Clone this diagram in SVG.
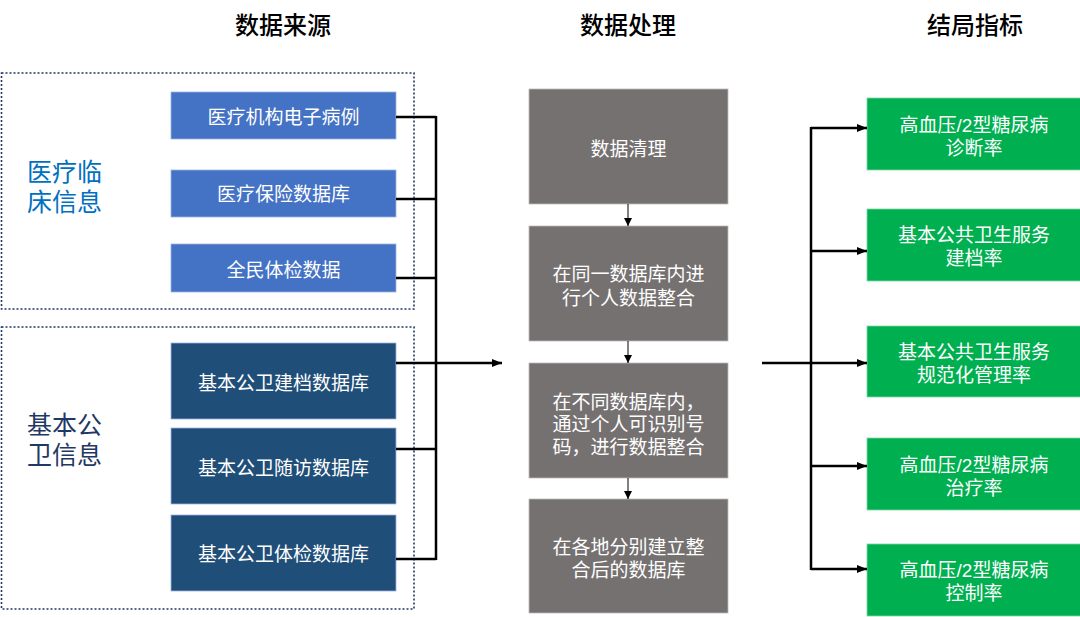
<svg xmlns="http://www.w3.org/2000/svg" width="1080" height="617" viewBox="0 0 1080 617">
<defs>
<style>
text{font-family:"Liberation Sans","Noto Sans CJK SC",sans-serif;}
.h{font-size:24px;fill:#000;text-anchor:middle;font-weight:500;}
.w{font-size:19px;fill:#fff;text-anchor:middle;}
.lb{font-size:25px;}
.grp{fill:none;stroke:#1F3864;stroke-width:1.6;stroke-dasharray:2 2;}
.b1{fill:#4472C4;stroke:#9DB5E0;stroke-width:0.8;}
.b2{fill:#1F4E79;stroke:#9DB5E0;stroke-width:0.8;}
.gr{fill:#767171;stroke:#bbb;stroke-width:0.8;}
.gn{fill:#00B050;stroke:#7fd6a5;stroke-width:0.8;}
.ln{fill:none;stroke:#000;stroke-width:2.5;}
.th{fill:none;stroke:#000;stroke-width:1;}
</style>
<marker id="ah" viewBox="0 0 10 10" refX="10" refY="5" markerWidth="4" markerHeight="4" orient="auto" markerUnits="strokeWidth"><path d="M0,1 L10,5 L0,9 z" fill="#000"/></marker>
<marker id="as" viewBox="0 0 10 10" refX="10" refY="5" markerWidth="8" markerHeight="8" orient="auto" markerUnits="strokeWidth"><path d="M0,0 L10,5 L0,10 z" fill="#000"/></marker>
</defs>
<rect width="1080" height="617" fill="#fff"/>
<g id="titles">
<text class="h" x="283" y="34">数据来源</text>
<text class="h" x="628" y="34">数据处理</text>
<text class="h" x="975" y="34">结局指标</text>
</g>
<g id="group-clinical">
<rect class="grp" x="1.5" y="73" width="412.5" height="236"/>
<text class="lb" fill="#0070C0"><tspan x="27" y="181">医疗临</tspan><tspan x="27" y="211">床信息</tspan></text>
</g>
<g id="group-basic">
<rect class="grp" x="1.5" y="327" width="412.5" height="282"/>
<text class="lb" fill="#1F3864"><tspan x="27" y="434">基本公</tspan><tspan x="27" y="464">卫信息</tspan></text>
</g>
<g id="n1"><rect class="b1" x="171" y="92" width="225" height="47"/><text class="w" x="283.5" y="124">医疗机构电子病例</text></g>
<g id="n2"><rect class="b1" x="171" y="170" width="225" height="47"/><text class="w" x="283.5" y="201">医疗保险数据库</text></g>
<g id="n3"><rect class="b1" x="171" y="244" width="225" height="48"/><text class="w" x="283.5" y="277">全民体检数据</text></g>
<g id="n4"><rect class="b2" x="171" y="343" width="225" height="76"/><text class="w" x="283.5" y="390">基本公卫建档数据库</text></g>
<g id="n5"><rect class="b2" x="171" y="428" width="225" height="76"/><text class="w" x="283.5" y="475">基本公卫随访数据库</text></g>
<g id="n6"><rect class="b2" x="171" y="515" width="225" height="76"/><text class="w" x="283.5" y="561">基本公卫体检数据库</text></g>
<g id="p1"><rect class="gr" x="529" y="89" width="199" height="115"/><text class="w" x="628.5" y="156">数据清理</text></g>
<g id="p2"><rect class="gr" x="529" y="226" width="199" height="115"/><text class="w"><tspan x="628.5" y="281">在同一数据库内进</tspan><tspan x="628.5" y="305">行个人数据整合</tspan></text></g>
<g id="p3"><rect class="gr" x="529" y="363" width="199" height="115"/><text class="w"><tspan x="628.5" y="409">在不同数据库内，</tspan><tspan x="628.5" y="431">通过个人可识别号</tspan><tspan x="628.5" y="454">码，进行数据整合</tspan></text></g>
<g id="p4"><rect class="gr" x="529" y="499" width="199" height="114"/><text class="w"><tspan x="628.5" y="554">在各地分别建立整</tspan><tspan x="628.5" y="577">合后的数据库</tspan></text></g>
<g id="o1"><rect class="gn" x="867" y="98" width="215" height="72"/><text class="w"><tspan x="974" y="132">高血压/2型糖尿病</tspan><tspan x="974" y="155">诊断率</tspan></text></g>
<g id="o2"><rect class="gn" x="867" y="209" width="215" height="72"/><text class="w"><tspan x="974" y="242">基本公共卫生服务</tspan><tspan x="974" y="265">建档率</tspan></text></g>
<g id="o3"><rect class="gn" x="867" y="326" width="215" height="71"/><text class="w"><tspan x="974" y="359">基本公共卫生服务</tspan><tspan x="974" y="382">规范化管理率</tspan></text></g>
<g id="o4"><rect class="gn" x="867" y="438" width="215" height="72"/><text class="w"><tspan x="974" y="472">高血压/2型糖尿病</tspan><tspan x="974" y="495">治疗率</tspan></text></g>
<g id="o5"><rect class="gn" x="867" y="544" width="215" height="72"/><text class="w"><tspan x="974" y="577">高血压/2型糖尿病</tspan><tspan x="974" y="600">控制率</tspan></text></g>
<g id="connectors">
<path class="ln" d="M396,117 H436 M396,199 H436 M396,278 H436 M396,363 H436 M396,449 H436 M396,559 H436 M436,116 V560"/>
<path class="ln" d="M436,363 H502" marker-end="url(#ah)"/>
<path class="th" d="M628,204 V226" marker-end="url(#as)"/>
<path class="th" d="M628,341 V363" marker-end="url(#as)"/>
<path class="th" d="M628,478 V499" marker-end="url(#as)"/>
<path class="ln" d="M762,363 H811 M811,127 V570"/>
<path class="ln" d="M811,128 H867" marker-end="url(#ah)"/>
<path class="ln" d="M811,251 H867" marker-end="url(#ah)"/>
<path class="ln" d="M811,363 H867" marker-end="url(#ah)"/>
<path class="ln" d="M811,466 H867" marker-end="url(#ah)"/>
<path class="ln" d="M811,569 H867" marker-end="url(#ah)"/>
</g>
</svg>
